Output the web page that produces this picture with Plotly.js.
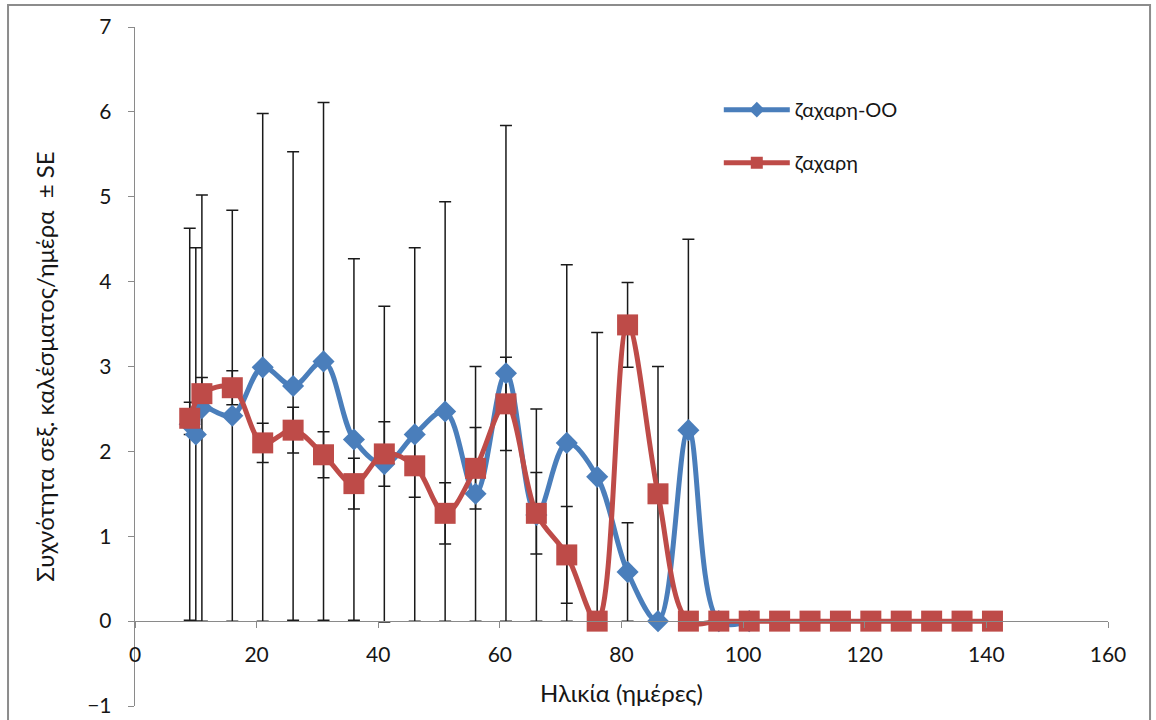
<!DOCTYPE html>
<html>
<head>
<meta charset="utf-8">
<script src="https://cdn.plot.ly/plotly-3.0.1.min.js"></script>
<style>
  html, body { margin: 0; padding: 0; background: #ffffff; }
  #chart { width: 1156px; height: 720px; }
</style>
</head>
<body>
<div id="chart"></div>
<script>
// Series "ζαχαρη-ΟΟ" (blue)
const blueAge = [9, 10, 11, 16, 21, 26, 31, 36, 41, 46, 51, 56, 61, 66, 71, 76, 81, 86, 91, 96, 101];
const blueVal = [2.32, 2.20, 2.51, 2.42, 2.99, 2.77, 3.06, 2.14, 1.85, 2.20, 2.47, 1.50, 2.92, 1.25, 2.10, 1.70, 0.58, 0.00, 2.25, 0.00, 0.00];
const blueSE  = [2.31, 2.20, 2.51, 2.42, 2.99, 2.76, 3.05, 2.13, 1.86, 2.20, 2.47, 1.50, 2.92, 1.25, 2.10, 1.70, 0.58, 0.00, 2.25, 0.00, 0.00];

// Series "ζαχαρη" (red)
const redAge = [9, 11, 16, 21, 26, 31, 36, 41, 46, 51, 56, 61, 66, 71, 76, 81, 86, 91, 96, 101, 106, 111, 116, 121, 126, 131, 136, 141];
const redVal = [2.39, 2.68, 2.75, 2.10, 2.25, 1.96, 1.62, 1.97, 1.83, 1.27, 1.80, 2.56, 1.27, 0.78, 0.00, 3.49, 1.50, 0, 0, 0, 0, 0, 0, 0, 0, 0, 0, 0];
const redSE  = [0.19, 0.19, 0.20, 0.23, 0.27, 0.27, 0.30, 0.38, 0.37, 0.36, 0.48, 0.55, 0.48, 0.57, 0.00, 0.50, 1.50, 0, 0, 0, 0, 0, 0, 0, 0, 0, 0, 0];

const names = ['ζαχαρη-ΟΟ', 'ζαχαρη'];
const xTitle = 'Ηλικία (ημέρες)';
const yTitle = 'Συχνότητα σεξ. καλέσματος/ημέρα  ± SE';

const BLUE = '#4A7EBB';
const RED = '#BE4B48';
const FONT = 'Lato, "Open Sans", sans-serif';
const TXT = '#161616';

const errStyle = (arr) => ({ type: 'data', array: arr, visible: true, color: '#1a1a1a', thickness: 1.5, width: 6 });

const traces = [
  // error bars drawn underneath the lines
  { x: blueAge, y: blueVal, type: 'scatter', mode: 'markers', marker: { opacity: 0, color: BLUE }, error_y: errStyle(blueSE), showlegend: false, hoverinfo: 'skip' },
  { x: redAge, y: redVal, type: 'scatter', mode: 'markers', marker: { opacity: 0, color: RED }, error_y: errStyle(redSE), showlegend: false, hoverinfo: 'skip' },
  { x: blueAge, y: blueVal, name: names[0], legendgroup: 'a', type: 'scatter', mode: 'lines+markers',
    line: { color: BLUE, width: 5, shape: 'spline', smoothing: 1 },
    marker: { symbol: 'diamond', size: 17, color: BLUE } },
  { x: redAge, y: redVal, name: names[1], legendgroup: 'b', type: 'scatter', mode: 'lines+markers',
    line: { color: RED, width: 5, shape: 'spline', smoothing: 1 },
    marker: { symbol: 'square', size: 21, color: RED } }
];

const layout = {
  width: 1156, height: 720,
  margin: { l: 135, r: 48, t: 27, b: 14 },
  paper_bgcolor: '#ffffff', plot_bgcolor: '#ffffff',
  font: { family: FONT, size: 18, color: TXT },
  showlegend: true,
  legend: { x: 0.6, y: 0.907, xanchor: 'left', yanchor: 'top', traceorder: 'grouped', tracegroupgap: 24,
            itemsizing: 'constant',
            font: { family: FONT, size: 20, color: TXT }, itemwidth: 66, bgcolor: 'rgba(0,0,0,0)' },
  xaxis: {
    range: [0, 160], dtick: 20, tick0: 0,
    anchor: 'free', position: 0.125,
    showline: true, linecolor: '#8a8a8a', linewidth: 1.3,
    ticks: 'outside', ticklen: 6, tickcolor: '#8a8a8a',
    ticklabelstandoff: 8,
    showgrid: false, zeroline: false,
    tickfont: { family: FONT, size: 21, color: TXT },
    title: { text: xTitle, font: { family: FONT, size: 24, color: TXT }, standoff: 20 }
  },
  yaxis: {
    range: [-1, 7], dtick: 1, domain: [0, 1],
    showline: true, linecolor: '#8a8a8a', linewidth: 1.3,
    ticks: 'outside', ticklen: 6, tickcolor: '#8a8a8a',
    ticklabelstandoff: 12,
    showgrid: false, zeroline: false,
    tickfont: { family: FONT, size: 21, color: TXT },
    title: { text: yTitle, font: { family: FONT, size: 24, color: TXT }, standoff: 25 }
  },
  shapes: [
    { type: 'rect', xref: 'paper', yref: 'paper', x0: -0.1305, x1: 1.0432, y0: -0.03, y1: 1.0324,
      line: { color: '#8c8c8c', width: 2 }, fillcolor: 'rgba(0,0,0,0)', layer: 'below' }
  ]
};

Plotly.newPlot('chart', traces, layout, { displayModeBar: false, staticPlot: true });
</script>
</body>
</html>
